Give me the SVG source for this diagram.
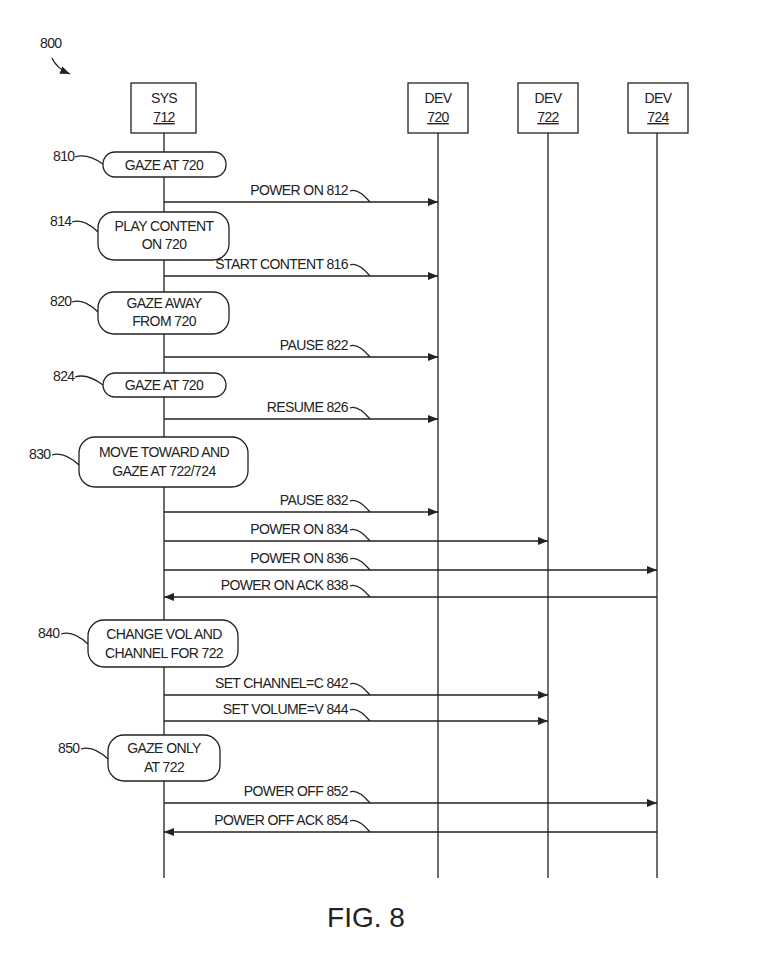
<svg xmlns="http://www.w3.org/2000/svg" width="768" height="966" viewBox="0 0 768 966">
<defs>
<style>
text{font-family:"Liberation Sans",Arial,sans-serif;font-size:14px;fill:#222;letter-spacing:-0.6px}
.c{text-anchor:middle}.r{text-anchor:end}
.box,.pill{fill:#fff;stroke:#222;stroke-width:1.3}
.ln{stroke:#222;stroke-width:1.3;fill:none}
</style>
<marker id="a" markerWidth="10" markerHeight="8" refX="10" refY="4" orient="auto" markerUnits="userSpaceOnUse"><path d="M0,0L10,4L0,8z" fill="#222"/></marker>
</defs>
<text x="40" y="48">800</text>
<path class="ln" d="M52,58 Q56,68 70,74" marker-end="url(#a)"/>
<g id="connectors">
<path class="ln" d="M164,133V878M438,133V878M548,133V878M657,133V878"/>
<g class="ln" marker-end="url(#a)">
<path d="M164,202H438" marker-end="url(#a)"/>
<path d="M164,276H438" marker-end="url(#a)"/>
<path d="M164,357H438" marker-end="url(#a)"/>
<path d="M164,419H438" marker-end="url(#a)"/>
<path d="M164,512H438" marker-end="url(#a)"/>
<path d="M164,541H548" marker-end="url(#a)"/>
<path d="M164,570H657" marker-end="url(#a)"/>
<path d="M657,597H164" marker-end="url(#a)"/>
<path d="M164,695H548" marker-end="url(#a)"/>
<path d="M164,721H548" marker-end="url(#a)"/>
<path d="M164,803H657" marker-end="url(#a)"/>
<path d="M657,832H164" marker-end="url(#a)"/>
</g>
<path class="ln" d="M350,191q8,-3 20,11M350,265q8,-3 20,11M350,346q8,-3 20,11M350,408q8,-3 20,11M350,501q8,-3 20,11M350,530q8,-3 20,11M350,559q8,-3 20,11M350,586q8,-3 20,11M350,684q8,-3 20,11M350,710q8,-3 20,11M350,792q8,-3 20,11M350,821q8,-3 20,11"/>
<text class="r" x="348" y="195">POWER ON 812</text>
<text class="r" x="348" y="269">START CONTENT 816</text>
<text class="r" x="348" y="350">PAUSE 822</text>
<text class="r" x="348" y="412">RESUME 826</text>
<text class="r" x="348" y="505">PAUSE 832</text>
<text class="r" x="348" y="534">POWER ON 834</text>
<text class="r" x="348" y="563">POWER ON 836</text>
<text class="r" x="348" y="590">POWER ON ACK 838</text>
<text class="r" x="348" y="688">SET CHANNEL=C 842</text>
<text class="r" x="348" y="714">SET VOLUME=V 844</text>
<text class="r" x="348" y="796">POWER OFF 852</text>
<text class="r" x="348" y="825">POWER OFF ACK 854</text>
</g>
<g id="sys"><rect class="box" x="131" y="83" width="65" height="50"/><text class="c" x="164" y="103">SYS</text><text class="c" x="164" y="122" text-decoration="underline">712</text></g>
<g id="dev720"><rect class="box" x="408" y="83" width="60" height="50"/><text class="c" x="438" y="103">DEV</text><text class="c" x="438" y="122" text-decoration="underline">720</text></g>
<g id="dev722"><rect class="box" x="518" y="83" width="60" height="50"/><text class="c" x="548" y="103">DEV</text><text class="c" x="548" y="122" text-decoration="underline">722</text></g>
<g id="dev724"><rect class="box" x="628" y="83" width="60" height="50"/><text class="c" x="658" y="103">DEV</text><text class="c" x="658" y="122" text-decoration="underline">724</text></g>
<g id="n810"><rect class="pill" x="103" y="152" width="123" height="25" rx="12"/><text class="c" x="164" y="170">GAZE AT 720</text><text x="53" y="161">810</text><path class="ln" d="M75,157q12,-4 28,7"/></g>
<g id="n814"><rect class="pill" x="98" y="212" width="131" height="48" rx="16"/><text class="c" x="164" y="231">PLAY CONTENT</text><text class="c" x="164" y="249">ON 720</text><text x="50" y="226">814</text><path class="ln" d="M72,222q12,-4 26,10"/></g>
<g id="n820"><rect class="pill" x="98" y="292" width="131" height="42" rx="16"/><text class="c" x="164" y="308">GAZE AWAY</text><text class="c" x="164" y="326">FROM 720</text><text x="50" y="306">820</text><path class="ln" d="M72,302q12,-4 26,10"/></g>
<g id="n824"><rect class="pill" x="103" y="373" width="123" height="24" rx="12"/><text class="c" x="164" y="390">GAZE AT 720</text><text x="53" y="381">824</text><path class="ln" d="M75,377q12,-4 28,8"/></g>
<g id="n830"><rect class="pill" x="79" y="437" width="169" height="50" rx="16"/><text class="c" x="164" y="457">MOVE TOWARD AND</text><text class="c" x="164" y="476">GAZE AT 722/724</text><text x="29" y="459">830</text><path class="ln" d="M52,455q12,-4 27,10"/></g>
<g id="n840"><rect class="pill" x="88" y="620" width="150" height="47" rx="16"/><text class="c" x="164" y="639">CHANGE VOL AND</text><text class="c" x="164" y="658">CHANNEL FOR 722</text><text x="38" y="638">840</text><path class="ln" d="M61,634q12,-4 27,10"/></g>
<g id="n850"><rect class="pill" x="108" y="735" width="112" height="46" rx="16"/><text class="c" x="164" y="753">GAZE ONLY</text><text class="c" x="164" y="772">AT 722</text><text x="58" y="753">850</text><path class="ln" d="M81,749q12,-4 27,10"/></g>
<text class="c" x="366" y="927" style="font-size:28px;letter-spacing:0">FIG. 8</text>
</svg>
